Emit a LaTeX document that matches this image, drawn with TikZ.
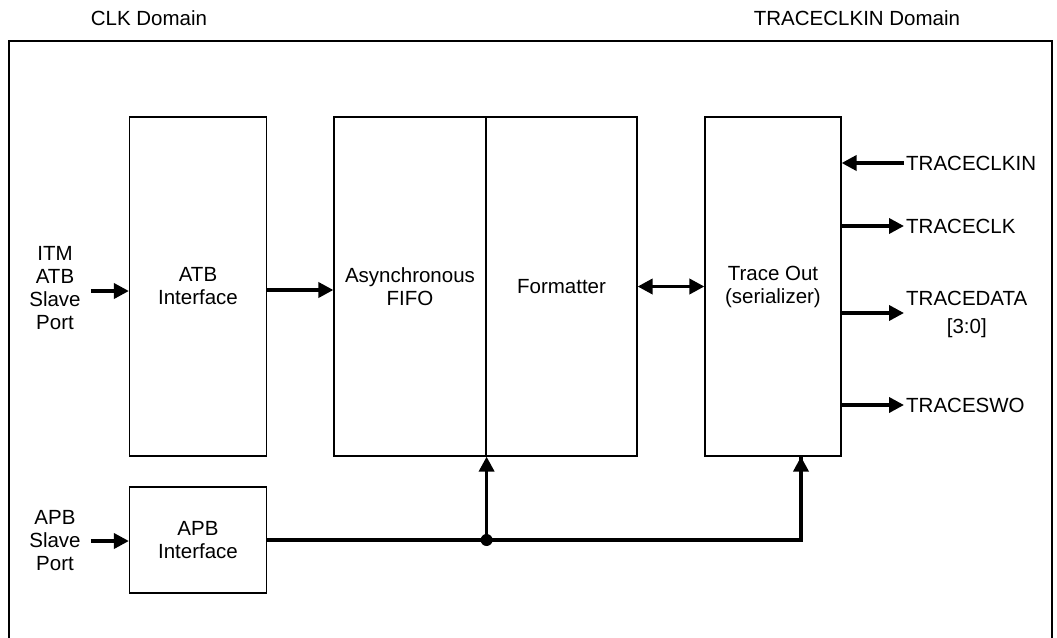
\documentclass[tikz,border=0pt]{standalone}
\usepackage{fontspec}
\setmainfont{Liberation Sans}
\usetikzlibrary{arrows.meta}

\begin{document}
\begin{tikzpicture}[x=1pt,y=-1pt,>={Triangle[length=15pt,width=15pt]},
  font=\fontsize{20.5pt}{23pt}\selectfont,
  blk/.style={draw,line width=1.2pt,inner sep=0pt,align=center},
  bus/.style={line width=3.6pt},
  lbl/.style={align=center,inner sep=2pt}]
  \useasboundingbox (0,0) rectangle (1057,637);
  \draw[line width=1.4pt] (9,650) -- (9,41) -- (1052,41) -- (1052,650);
  \node (clkdom) at (149,18) {CLK Domain};
  \node (tcdom) at (857,18) {TRACECLKIN Domain};

  \node[blk,minimum width=137,minimum height=339] (atb) at (198,286.5) {ATB\\Interface};
  \node[blk,minimum width=152,minimum height=339] (fifo) at (410,286.5) {Asynchronous\\FIFO};
  \node[blk,minimum width=151,minimum height=339] (fmt) at (561.5,286.5) {Formatter};
  \node[blk,minimum width=136,minimum height=339] (trace) at (773,286.5) {Trace Out\\(serializer)};
  \node[blk,minimum width=137,minimum height=106] (apb) at (198,540) {APB\\Interface};

  \node[lbl] (itm) at (55,288) {ITM\\ATB\\Slave\\Port};
  \node[lbl] (apbport) at (55,541) {APB\\Slave\\Port};

  \draw[bus,->] ([xshift=8pt,yshift=-3pt]itm.east) -- ([yshift=-3pt]itm.east -| atb.west);
  \draw[bus,->] ([xshift=8pt]apbport.east) -- (apbport.east -| apb.west);
  \draw[bus,->] ([yshift=-3.5pt]atb.east) -- ([yshift=-3.5pt]fifo.west);
  \draw[bus,<->] (fmt.east) -- (trace.west);

  \coordinate (j) at (fifo.south east |- apb.east);
  \coordinate (tin) at ([xshift=28pt]trace.south);
  \draw[bus] (apb.east) -- (tin |- apb.east) -- (tin);
  \draw[bus,->] (tin |- apb.east) -- (tin);
  \draw[bus,->] (j) -- (fifo.south east);
  \fill (j) circle (6);

  \node[lbl,anchor=west] (tclkin) at (904,163) {TRACECLKIN};
  \node[lbl,anchor=west] (tclk) at (904,226) {TRACECLK};
  \node[lbl,anchor=west] (tdata) at (904,314) {TRACEDATA\\[5pt][3:0]};
  \node[lbl,anchor=west] (tswo) at (904,405) {TRACESWO};

  \draw[bus,->] (tclkin.west) -- (tclkin.west -| trace.east);
  \draw[bus,->] (tclk.west -| trace.east) -- (tclk.west);
  \draw[bus,->] ([yshift=1pt]tdata.west -| trace.east) -- ([yshift=1pt]tdata.west);
  \draw[bus,->] (tswo.west -| trace.east) -- (tswo.west);
\end{tikzpicture}
\end{document}
